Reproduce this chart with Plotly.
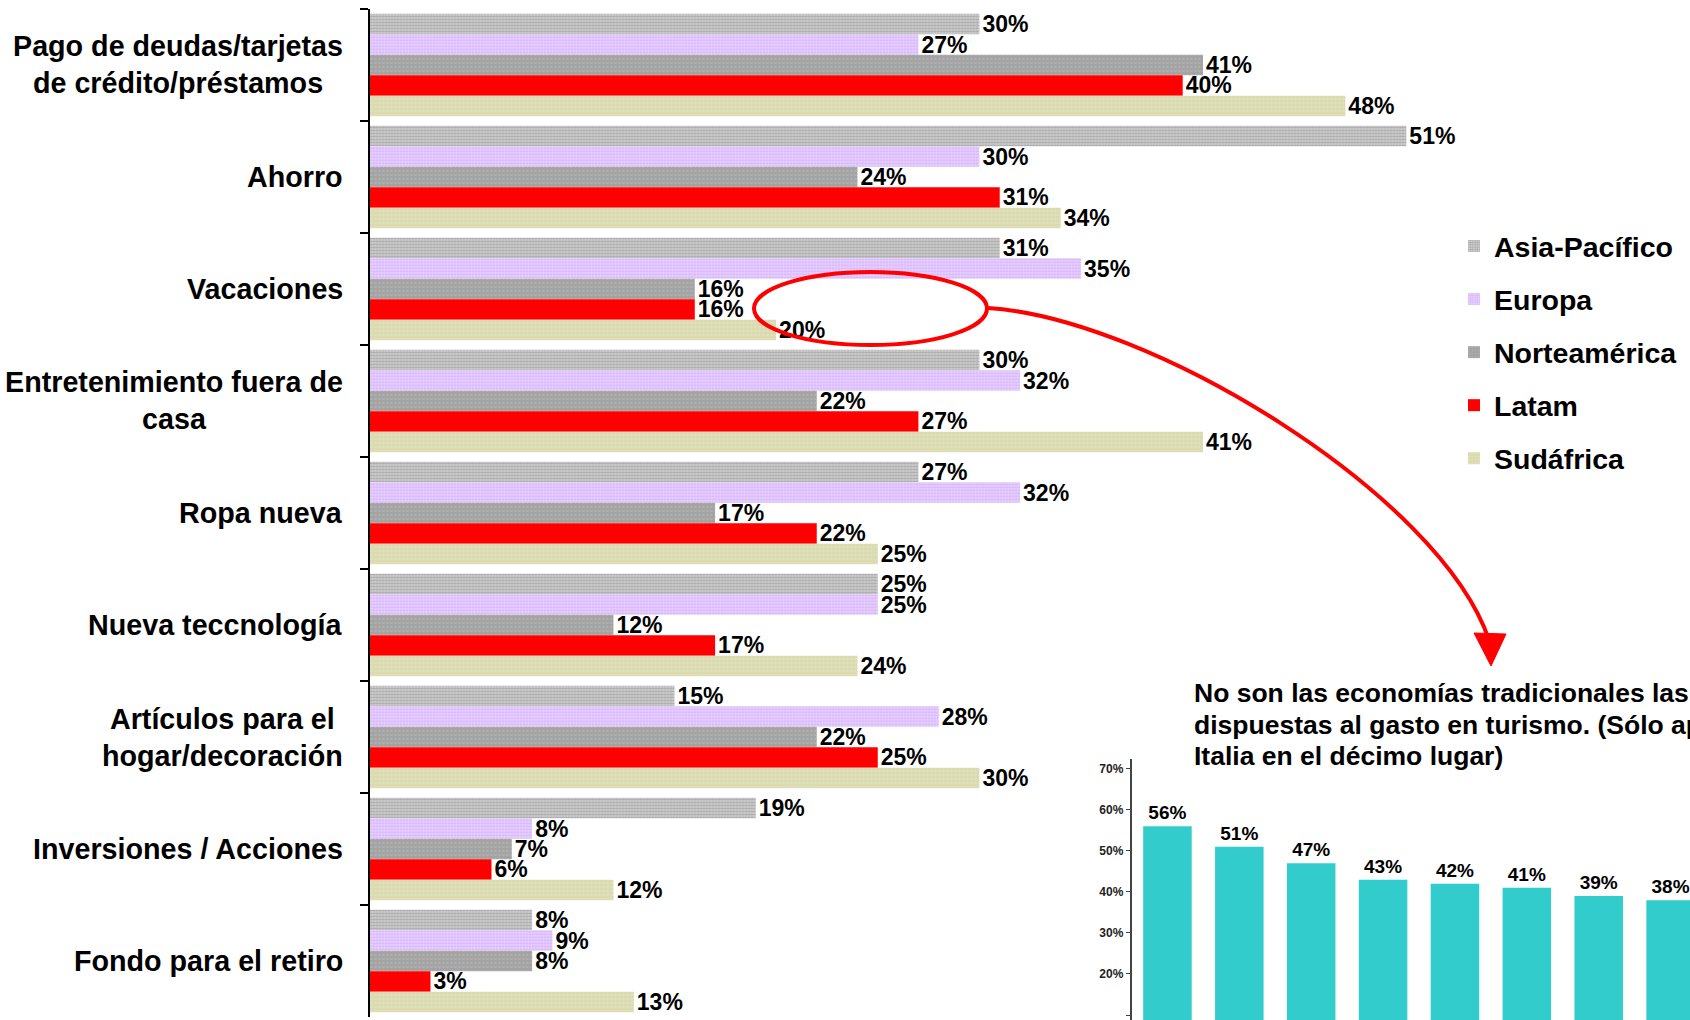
import plotly.graph_objects as go

W, H = 1690, 1020

# ---------------- data ----------------
categories = [
    "Pago de deudas/tarjetas<br>de crédito/préstamos",
    "Ahorro",
    "Vacaciones",
    "Entretenimiento fuera de<br>casa",
    "Ropa nueva",
    "Nueva teccnología",
    "Artículos para el<br>hogar/decoración",
    "Inversiones / Acciones",
    "Fondo para el retiro",
]
series_names = ["Asia-Pacífico", "Europa", "Norteamérica", "Latam", "Sudáfrica"]
asia = [30, 51, 31, 30, 27, 25, 15, 19, 8]
europa = [27, 30, 35, 32, 32, 25, 28, 8, 9]
norteamerica = [41, 24, 16, 22, 17, 12, 22, 7, 8]
latam = [40, 31, 16, 27, 22, 17, 25, 6, 3]
sudafrica = [48, 34, 20, 41, 25, 24, 30, 12, 13]

inset_title_lines = [
    "No son las economías tradicionales las más",
    "dispuestas al gasto en turismo. (Sólo aparece",
    "Italia en el décimo lugar)",
]
inset_ranks = ["1", "2", "3", "4", "5", "6", "7", "8"]
inset_values = [56, 51, 47, 43, 42, 41, 39, 38]
inset_ticks = [10, 20, 30, 40, 50, 60, 70]

# ---------------- styles ----------------
FONT = "Liberation Sans, Arial, sans-serif"
styles = [
    dict(color="#BDBDBD", pattern=dict(shape=".", bgcolor="#D6D6D6", fgcolor="#7E7E7E", size=3, solidity=0.55)),
    dict(color="#E2C8FF", pattern=dict(shape=".", bgcolor="#E8D2FF", fgcolor="#C498F4", size=3, solidity=0.45)),
    dict(color="#A6A6A6", pattern=dict(shape=".", bgcolor="#A2A2A2", fgcolor="#BEBEBE", size=4, solidity=0.3)),
    dict(color="#FF0000"),
    dict(color="#DCDCB4", pattern=dict(shape=".", bgcolor="#DADAB0", fgcolor="#E6E6CA", size=4, solidity=0.3)),
]


def px_x(p):
    return p / W


def px_y(p):
    return 1 - p / H


fig = go.Figure()

for name, vals, st in zip(series_names, [asia, europa, norteamerica, latam, sudafrica], styles):
    fig.add_trace(go.Bar(
        y=categories, x=vals, name=name, orientation="h",
        marker=dict(line=dict(width=0), **st),
        texttemplate="%{x}%", textposition="outside",
        textfont=dict(family=FONT, size=23, color="black", weight="bold"),
        constraintext="none", cliponaxis=False,
        legendgroup=name, xaxis="x", yaxis="y",
    ))

fig.add_trace(go.Bar(
    x=inset_ranks, y=inset_values, width=0.675,
    marker=dict(color="#33CCCC", line=dict(width=0)),
    text=[f"{v}%" for v in inset_values], texttemplate="%{text}", textposition="outside",
    textfont=dict(family=FONT, size=19, color="black", weight="bold"),
    constraintext="none", showlegend=False, xaxis="x2", yaxis="y2",
))

annotations = []
for c in categories:
    annotations.append(dict(
        x=px_x(345), xref="paper", y=c, yref="y", xanchor="right", yanchor="middle",
        text=c, showarrow=False, align="center",
        font=dict(family=FONT, size=28.7, color="black", weight="bold"),
    ))
for i, line in enumerate(inset_title_lines):
    annotations.append(dict(
        x=px_x(1192), xref="paper", y=px_y(693 + 31.5 * i), yref="paper",
        xanchor="left", yanchor="middle", text=line, showarrow=False, align="left",
        font=dict(family=FONT, size=26.5, color="black", weight="bold"),
    ))

shapes = [
    dict(type="circle", xref="paper", yref="paper",
         x0=px_x(754), x1=px_x(987), y0=px_y(345), y1=px_y(272),
         line=dict(color="#FF0000", width=4)),
    dict(type="path", xref="paper", yref="paper",
         path=f"M {px_x(988)},{px_y(308)} C {px_x(1150)},{px_y(318)} {px_x(1440)},{px_y(495)} {px_x(1489)},{px_y(640)}",
         line=dict(color="#FF0000", width=4)),
    dict(type="path", xref="paper", yref="paper",
         path=f"M {px_x(1474)},{px_y(633)} L {px_x(1506)},{px_y(634)} L {px_x(1491)},{px_y(666)} Z",
         fillcolor="#FF0000", line=dict(color="#FF0000", width=1)),
]

fig.update_layout(
    width=W, height=H,
    margin=dict(l=0, r=0, t=0, b=0, pad=0, autoexpand=False),
    paper_bgcolor="white", plot_bgcolor="rgba(0,0,0,0)",
    barmode="group", bargap=0.087, bargroupgap=0,
    font=dict(family=FONT, color="black"),
    xaxis=dict(domain=[px_x(369.5), px_x(369.5 + 60 * 20.33)], range=[0, 60],
               visible=False, showgrid=False, zeroline=False, automargin=False),
    yaxis=dict(domain=[1 - 1017 / H, 1 - 9 / H], type="category",
               categoryorder="array", categoryarray=categories,
               range=[8.5, -0.5], showticklabels=False,
               showline=True, linecolor="black", linewidth=2,
               ticks="outside", ticklen=8, tickwidth=2, tickcolor="black",
               tickson="boundaries", showgrid=False, zeroline=False, automargin=False),
    xaxis2=dict(domain=[px_x(1131.5), 1], range=[-0.5, 7.27], anchor="y2",
                type="category", showticklabels=False, showline=False,
                showgrid=False, zeroline=False, ticks="", automargin=False),
    yaxis2=dict(domain=[0, 1 - 758.7 / H], range=[8.78, 72.5], anchor="x2",
                tickvals=inset_ticks, ticktext=[f"{v}%" for v in inset_ticks],
                tickfont=dict(family=FONT, size=12, color="#222", weight="bold"),
                showline=True, linecolor="#444", linewidth=1.5,
                ticks="outside", ticklen=4, tickcolor="#444",
                showgrid=False, zeroline=False, automargin=False),
    legend=dict(x=px_x(1454), y=px_y(221), xanchor="left", yanchor="top",
                font=dict(family=FONT, size=28.5, color="black", weight="bold"),
                traceorder="grouped", tracegroupgap=13,
                bgcolor="rgba(0,0,0,0)", itemsizing="constant"),
    annotations=annotations,
    shapes=shapes,
)

fig.write_html("out.html", config={"displayModeBar": False},
               post_script="document.body.style.margin='0px';")
